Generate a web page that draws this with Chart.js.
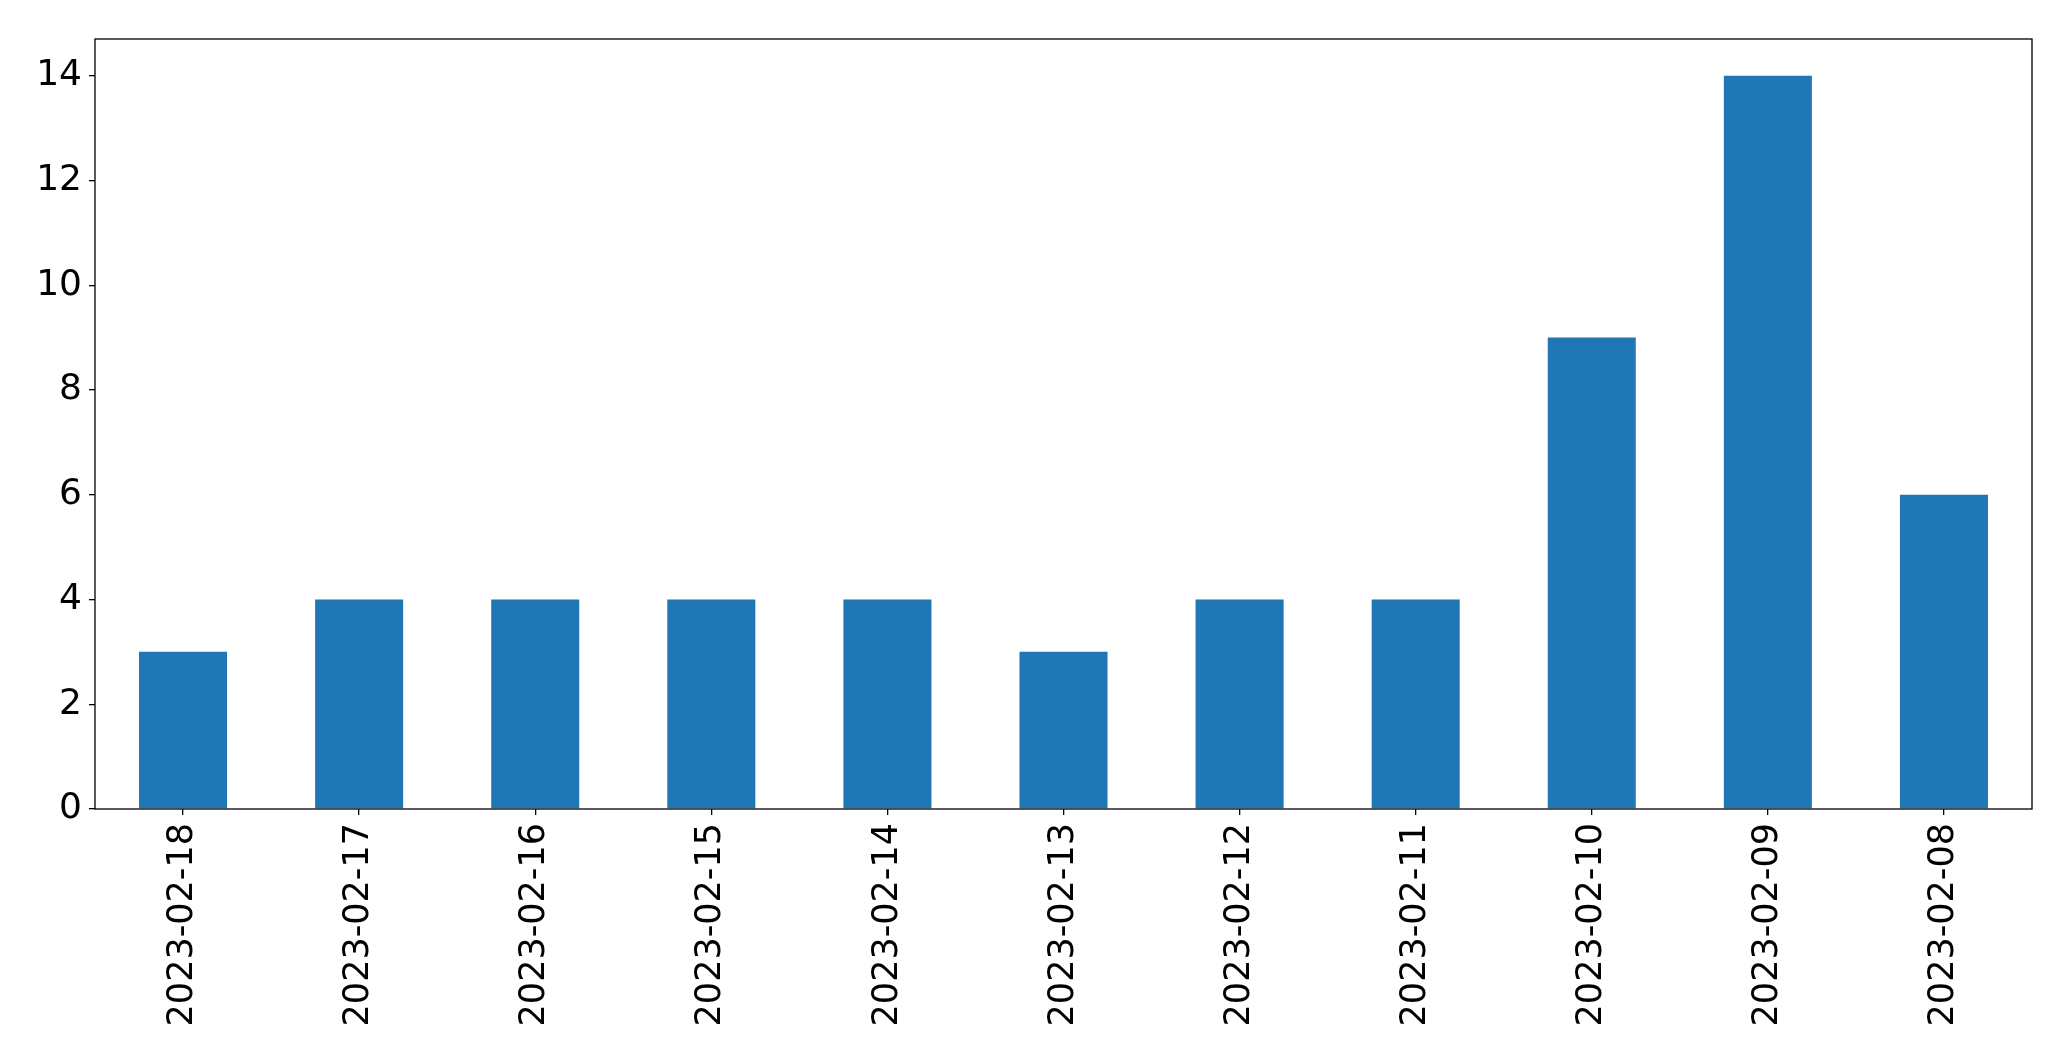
<!DOCTYPE html>
<html>
<head>
<meta charset="utf-8">
<script src="https://cdn.jsdelivr.net/npm/chart.js@4/dist/chart.umd.min.js"></script>
<style>
  html, body { margin: 0; padding: 0; background: #fff; }
  #wrap { width: 2071px; height: 1061px; }
</style>
</head>
<body>
<div id="wrap"><canvas id="grafico"></canvas></div>
<script>
// datos
const fechas = ["2023-02-18", "2023-02-17", "2023-02-16", "2023-02-15", "2023-02-14",
                "2023-02-13", "2023-02-12", "2023-02-11", "2023-02-10", "2023-02-09", "2023-02-08"];
const conteos = [3, 4, 4, 4, 4, 3, 4, 4, 9, 14, 6];
const ticksY = [0, 2, 4, 6, 8, 10, 12, 14];

// marco negro alrededor del area del grafico
const marco = {
    id: 'marco',
    afterDraw(chart) {
        const a = chart.chartArea;
        const ctx = chart.ctx;
        ctx.save();
        ctx.strokeStyle = '#000';
        ctx.lineWidth = 1.3;
        ctx.strokeRect(a.left, a.top, a.right - a.left, a.bottom - a.top);
        ctx.restore();
    }
};

new Chart(document.getElementById('grafico').getContext('2d'), {
    type: 'bar',
    data: {
        labels: fechas,
        datasets: [{
            data: conteos,
            backgroundColor: '#1f77b4',
            barPercentage: 0.5,
            categoryPercentage: 1.0
        }]
    },
    options: {
        responsive: true,
        maintainAspectRatio: false,
        animation: false,
        layout: { padding: { top: 39, right: 39, left: 0, bottom: 0 } },
        plugins: { legend: { display: false }, tooltip: { enabled: false } },
        scales: {
            x: {
                offset: true,
                grid: { display: true, drawOnChartArea: false, offset: false, tickLength: 6, color: '#000', lineWidth: 1.3 },
                border: { display: false },
                ticks: { color: '#000', font: { family: 'DejaVu Sans', size: 35 }, minRotation: 90, maxRotation: 90, padding: 8, autoSkip: false },
                afterFit(scale) { scale.height = 252; }
            },
            y: {
                min: 0,
                max: 14.7,
                grid: { display: true, drawOnChartArea: false, tickLength: 6, color: '#000', lineWidth: 1.3 },
                border: { display: false },
                afterBuildTicks(scale) { scale.ticks = ticksY.map(v => ({ value: v })); },
                ticks: { color: '#000', font: { family: 'DejaVu Sans', size: 36 }, padding: 7 },
                afterFit(scale) { scale.width = 95; }
            }
        }
    },
    plugins: [marco]
});
</script>
</body>
</html>
